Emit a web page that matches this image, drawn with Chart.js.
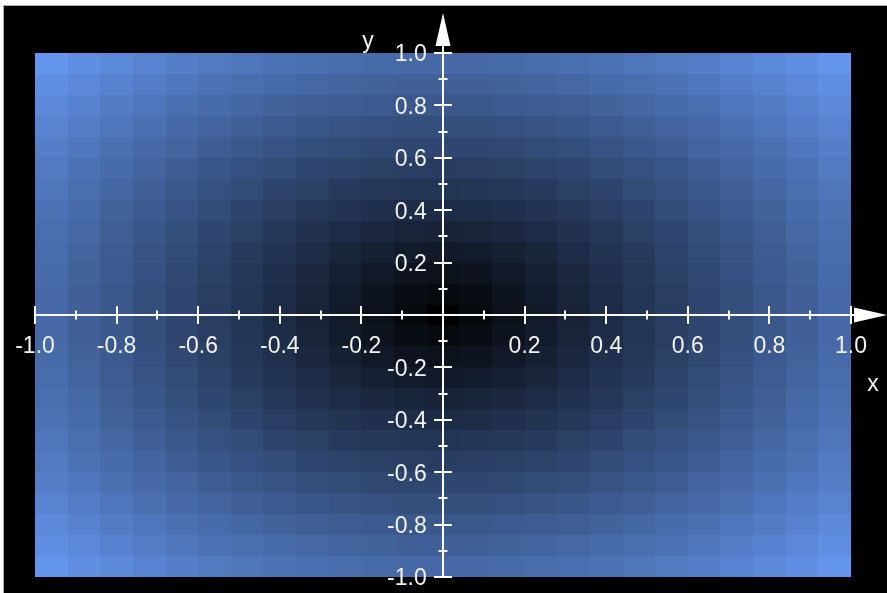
<!DOCTYPE html>
<html>
<head>
<meta charset="utf-8">
<script src="https://cdn.jsdelivr.net/npm/chart.js@4/dist/chart.umd.min.js"></script>
<style>
  html, body { margin: 0; padding: 0; background: #ffffff; width: 887px; height: 593px; overflow: hidden; }
  #wrap { position: absolute; left: 3px; top: 5px; border-left: 1px solid #a8a8a8; border-top: 1px solid #a8a8a8; }
  canvas { display: block; }
</style>
</head>
<body>
<div id="wrap"><canvas id="c" width="883" height="587"></canvas></div>
<script>
// ---- data ----
const xCategories = [-0.96,-0.88,-0.80,-0.72,-0.64,-0.56,-0.48,-0.40,-0.32,-0.24,-0.16,-0.08,0,0.08,0.16,0.24,0.32,0.40,0.48,0.56,0.64,0.72,0.80,0.88,0.96];
const yCategories = [0.96,0.88,0.80,0.72,0.64,0.56,0.48,0.40,0.32,0.24,0.16,0.08,0,-0.08,-0.16,-0.24,-0.32,-0.40,-0.48,-0.56,-0.64,-0.72,-0.80,-0.88,-0.96];
// cell values, rows from top (y = 0.96) to bottom (y = -0.96)
const values = [
[1.36,1.30,1.25,1.20,1.15,1.11,1.07,1.04,1.01,0.99,0.97,0.96,0.96,0.96,0.97,0.99,1.01,1.04,1.07,1.11,1.15,1.20,1.25,1.30,1.36],
[1.30,1.24,1.19,1.14,1.09,1.04,1.00,0.97,0.94,0.91,0.89,0.88,0.88,0.88,0.89,0.91,0.94,0.97,1.00,1.04,1.09,1.14,1.19,1.24,1.30],
[1.25,1.19,1.13,1.08,1.02,0.98,0.93,0.89,0.86,0.84,0.82,0.80,0.80,0.80,0.82,0.84,0.86,0.89,0.93,0.98,1.02,1.08,1.13,1.19,1.25],
[1.20,1.14,1.08,1.02,0.96,0.91,0.87,0.82,0.79,0.76,0.74,0.72,0.72,0.72,0.74,0.76,0.79,0.82,0.87,0.91,0.96,1.02,1.08,1.14,1.20],
[1.15,1.09,1.02,0.96,0.91,0.85,0.80,0.75,0.72,0.68,0.66,0.64,0.64,0.64,0.66,0.68,0.72,0.75,0.80,0.85,0.91,0.96,1.02,1.09,1.15],
[1.11,1.04,0.98,0.91,0.85,0.79,0.74,0.69,0.64,0.61,0.58,0.57,0.56,0.57,0.58,0.61,0.64,0.69,0.74,0.79,0.85,0.91,0.98,1.04,1.11],
[1.07,1.00,0.93,0.87,0.80,0.74,0.68,0.62,0.58,0.54,0.51,0.49,0.48,0.49,0.51,0.54,0.58,0.62,0.68,0.74,0.80,0.87,0.93,1.00,1.07],
[1.04,0.97,0.89,0.82,0.75,0.69,0.62,0.57,0.51,0.47,0.43,0.41,0.40,0.41,0.43,0.47,0.51,0.57,0.62,0.69,0.75,0.82,0.89,0.97,1.04],
[1.01,0.94,0.86,0.79,0.72,0.64,0.58,0.51,0.45,0.40,0.36,0.33,0.32,0.33,0.36,0.40,0.45,0.51,0.58,0.64,0.72,0.79,0.86,0.94,1.01],
[0.99,0.91,0.84,0.76,0.68,0.61,0.54,0.47,0.40,0.34,0.29,0.25,0.24,0.25,0.29,0.34,0.40,0.47,0.54,0.61,0.68,0.76,0.84,0.91,0.99],
[0.97,0.89,0.82,0.74,0.66,0.58,0.51,0.43,0.36,0.29,0.23,0.18,0.16,0.18,0.23,0.29,0.36,0.43,0.51,0.58,0.66,0.74,0.82,0.89,0.97],
[0.96,0.88,0.80,0.72,0.64,0.57,0.49,0.41,0.33,0.25,0.18,0.11,0.08,0.11,0.18,0.25,0.33,0.41,0.49,0.57,0.64,0.72,0.80,0.88,0.96],
[0.96,0.88,0.80,0.72,0.64,0.56,0.48,0.40,0.32,0.24,0.16,0.08,0.00,0.08,0.16,0.24,0.32,0.40,0.48,0.56,0.64,0.72,0.80,0.88,0.96],
[0.96,0.88,0.80,0.72,0.64,0.57,0.49,0.41,0.33,0.25,0.18,0.11,0.08,0.11,0.18,0.25,0.33,0.41,0.49,0.57,0.64,0.72,0.80,0.88,0.96],
[0.97,0.89,0.82,0.74,0.66,0.58,0.51,0.43,0.36,0.29,0.23,0.18,0.16,0.18,0.23,0.29,0.36,0.43,0.51,0.58,0.66,0.74,0.82,0.89,0.97],
[0.99,0.91,0.84,0.76,0.68,0.61,0.54,0.47,0.40,0.34,0.29,0.25,0.24,0.25,0.29,0.34,0.40,0.47,0.54,0.61,0.68,0.76,0.84,0.91,0.99],
[1.01,0.94,0.86,0.79,0.72,0.64,0.58,0.51,0.45,0.40,0.36,0.33,0.32,0.33,0.36,0.40,0.45,0.51,0.58,0.64,0.72,0.79,0.86,0.94,1.01],
[1.04,0.97,0.89,0.82,0.75,0.69,0.62,0.57,0.51,0.47,0.43,0.41,0.40,0.41,0.43,0.47,0.51,0.57,0.62,0.69,0.75,0.82,0.89,0.97,1.04],
[1.07,1.00,0.93,0.87,0.80,0.74,0.68,0.62,0.58,0.54,0.51,0.49,0.48,0.49,0.51,0.54,0.58,0.62,0.68,0.74,0.80,0.87,0.93,1.00,1.07],
[1.11,1.04,0.98,0.91,0.85,0.79,0.74,0.69,0.64,0.61,0.58,0.57,0.56,0.57,0.58,0.61,0.64,0.69,0.74,0.79,0.85,0.91,0.98,1.04,1.11],
[1.15,1.09,1.02,0.96,0.91,0.85,0.80,0.75,0.72,0.68,0.66,0.64,0.64,0.64,0.66,0.68,0.72,0.75,0.80,0.85,0.91,0.96,1.02,1.09,1.15],
[1.20,1.14,1.08,1.02,0.96,0.91,0.87,0.82,0.79,0.76,0.74,0.72,0.72,0.72,0.74,0.76,0.79,0.82,0.87,0.91,0.96,1.02,1.08,1.14,1.20],
[1.25,1.19,1.13,1.08,1.02,0.98,0.93,0.89,0.86,0.84,0.82,0.80,0.80,0.80,0.82,0.84,0.86,0.89,0.93,0.98,1.02,1.08,1.13,1.19,1.25],
[1.30,1.24,1.19,1.14,1.09,1.04,1.00,0.97,0.94,0.91,0.89,0.88,0.88,0.88,0.89,0.91,0.94,0.97,1.00,1.04,1.09,1.14,1.19,1.24,1.30],
[1.36,1.30,1.25,1.20,1.15,1.11,1.07,1.04,1.01,0.99,0.97,0.96,0.96,0.96,0.97,0.99,1.01,1.04,1.07,1.11,1.15,1.20,1.25,1.30,1.36]
];
const xTickValues = [-1.0,-0.8,-0.6,-0.4,-0.2,0.2,0.4,0.6,0.8,1.0];
const xMinorTicks = [-0.9,-0.7,-0.5,-0.3,-0.1,0.1,0.3,0.5,0.7,0.9];
const yTickValues = [-1.0,-0.8,-0.6,-0.4,-0.2,0.2,0.4,0.6,0.8,1.0];
const yMinorTicks = [-0.9,-0.7,-0.5,-0.3,-0.1,0.1,0.3,0.5,0.7,0.9];
const xAxisTitle = 'x';
const yAxisTitle = 'y';

// ---- styling ----
const FONT = '"Liberation Sans", Arial, sans-serif';
const FONT_SIZE = 23;
const LABEL_COLOR = '#f2f2f2';
const HIGH = [100, 149, 237]; // cornflowerblue at maximum value
const vMax = Math.max(...values.flat());

function cellColor(v) {
  const t = v / vMax;
  return 'rgb(' + Math.round(HIGH[0]*t) + ',' + Math.round(HIGH[1]*t) + ',' + Math.round(HIGH[2]*t) + ')';
}

const cellData = [];
yCategories.forEach((yc, r) => xCategories.forEach((xc, c) => cellData.push({x: xc, y: yc, v: values[r][c]})));

function edges(cats, i) {
  const prev = i > 0 ? cats[i-1] : cats[i] - (cats[i+1] - cats[i]);
  const next = i < cats.length - 1 ? cats[i+1] : cats[i] + (cats[i] - cats[i-1]);
  return [(prev + cats[i]) / 2, (cats[i] + next) / 2];
}

const heatPlugin = {
  id: 'heat',
  beforeDraw(chart) {
    const ctx = chart.ctx;
    ctx.save();
    ctx.fillStyle = '#000000';
    ctx.fillRect(0, 0, chart.width, chart.height);
    const xs = chart.scales.x, ys = chart.scales.y;
    yCategories.forEach((yc, r) => {
      const [ya, yb] = edges(yCategories, r);
      const p1 = ys.getPixelForValue(ya), p2 = ys.getPixelForValue(yb);
      xCategories.forEach((xc, c) => {
        const [xa, xb] = edges(xCategories, c);
        const q1 = xs.getPixelForValue(xa), q2 = xs.getPixelForValue(xb);
        ctx.fillStyle = cellColor(values[r][c]);
        const left = Math.round(Math.min(q1, q2)), right = Math.round(Math.max(q1, q2));
        const top = Math.round(Math.min(p1, p2)), bottom = Math.round(Math.max(p1, p2));
        ctx.fillRect(left, top, right - left, bottom - top);
      });
    });
    ctx.restore();
  },
  afterDraw(chart) {
    const ctx = chart.ctx;
    const xs = chart.scales.x, ys = chart.scales.y;
    const x0 = xs.getPixelForValue(0), y0 = ys.getPixelForValue(0);
    const xL = xs.getPixelForValue(xs.min);
    const yB = ys.getPixelForValue(ys.min);
    ctx.save();
    ctx.strokeStyle = '#ffffff';
    ctx.fillStyle = '#ffffff';
    ctx.lineWidth = 2;
    ctx.beginPath();
    ctx.moveTo(xL, y0); ctx.lineTo(chart.width - 30, y0);
    ctx.moveTo(x0, yB + 1); ctx.lineTo(x0, 36);
    ctx.stroke();
    ctx.beginPath();
    xTickValues.forEach(v => { const p = Math.round(xs.getPixelForValue(v)); ctx.moveTo(p, y0 - 9); ctx.lineTo(p, y0 + 9); });
    xMinorTicks.forEach(v => { const p = Math.round(xs.getPixelForValue(v)); ctx.moveTo(p, y0 - 4.5); ctx.lineTo(p, y0 + 4.5); });
    yTickValues.forEach(v => { const p = Math.round(ys.getPixelForValue(v)); ctx.moveTo(x0 - 9, p); ctx.lineTo(x0 + 9, p); });
    yMinorTicks.forEach(v => { const p = Math.round(ys.getPixelForValue(v)); ctx.moveTo(x0 - 4.5, p); ctx.lineTo(x0 + 4.5, p); });
    ctx.stroke();
    ctx.beginPath();
    ctx.moveTo(chart.width, y0); ctx.lineTo(chart.width - 33, y0 - 7.5); ctx.lineTo(chart.width - 33, y0 + 7.5); ctx.closePath();
    ctx.fill();
    ctx.beginPath();
    ctx.moveTo(x0, 7); ctx.lineTo(x0 - 7.5, 40); ctx.lineTo(x0 + 7.5, 40); ctx.closePath();
    ctx.fill();
    ctx.fillStyle = LABEL_COLOR;
    ctx.font = FONT_SIZE + 'px ' + FONT;
    ctx.textAlign = 'center';
    ctx.textBaseline = 'middle';
    ctx.fillText(yAxisTitle, x0 - 75, 36);
    ctx.fillText(xAxisTitle, chart.width - 14, y0 + 70);
    ctx.restore();
  }
};

const fmt = v => (Math.round(v * 10) / 10).toFixed(1);
const noPad = s => { s.paddingLeft = 0; s.paddingRight = 0; s.paddingTop = 0; s.paddingBottom = 0; };

new Chart(document.getElementById('c'), {
  type: 'scatter',
  data: { datasets: [{ data: cellData, pointRadius: 0, pointHoverRadius: 0 }] },
  options: {
    responsive: false,
    animation: false,
    events: [],
    layout: { padding: { left: 31, right: 36, top: 47, bottom: 16 } },
    plugins: { legend: { display: false }, tooltip: { enabled: false } },
    scales: {
      x: {
        type: 'linear', min: -1, max: 1,
        position: { y: 0 },
        afterBuildTicks: s => { s.ticks = xTickValues.map(v => ({ value: v })); },
        afterFit: noPad,
        grid: { display: false, drawTicks: false },
        border: { display: false },
        ticks: { autoSkip: false, maxRotation: 0, padding: 18, color: LABEL_COLOR,
                 font: { family: FONT, size: FONT_SIZE }, callback: v => fmt(v) }
      },
      y: {
        type: 'linear', min: -1, max: 1,
        position: { x: -0.04 },
        afterBuildTicks: s => { s.ticks = yTickValues.map(v => ({ value: v })); },
        afterFit: noPad,
        grid: { display: false, drawTicks: false },
        border: { display: false },
        ticks: { autoSkip: false, padding: 0, labelOffset: 2, color: LABEL_COLOR,
                 font: { family: FONT, size: FONT_SIZE }, callback: v => fmt(v) }
      }
    }
  },
  plugins: [heatPlugin]
});
</script>
</body>
</html>
